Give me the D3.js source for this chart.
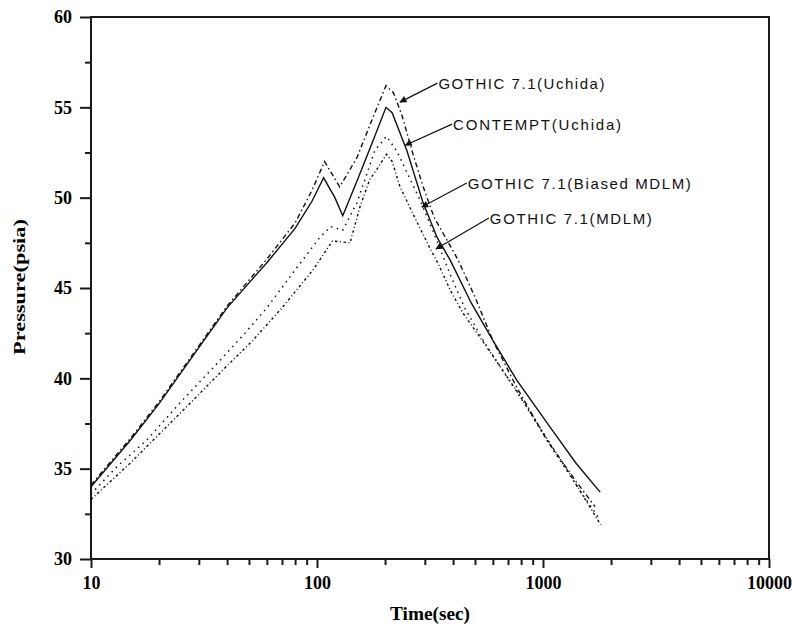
<!DOCTYPE html>
<html>
<head>
<meta charset="utf-8">
<script src="https://cdn.jsdelivr.net/npm/d3@7"></script>
<style>
  body { margin: 0; background: #fff; }
  svg { display: block; }
</style>
</head>
<body>
<script>
// values: time (sec) and pressure (psia) per run
let contemptTime  = [10, 15, 20, 30, 40, 60, 80, 95, 107, 120, 130, 150, 175, 202, 215, 250, 295, 340, 390, 480, 600, 765, 1075, 1400, 1790];
let contemptPress = [34.0, 36.6, 38.6, 41.7, 43.9, 46.4, 48.3, 49.8, 51.1, 50.0, 49.0, 50.9, 53.0, 55.0, 54.7, 52.6, 49.7, 47.8, 46.5, 44.2, 42.1, 39.9, 37.3, 35.3, 33.7];

let uchidaTime  = [10, 15, 20, 30, 40, 60, 80, 95, 108, 126, 150, 175, 202, 218, 237, 266, 295, 330, 390, 423, 500, 600, 765, 1050, 1400, 1700];
let uchidaPress = [34.1, 36.7, 38.7, 41.8, 44.0, 46.6, 48.6, 50.4, 52.0, 50.6, 52.2, 54.3, 56.2, 55.8, 54.6, 52.4, 50.6, 48.9, 47.3, 46.5, 44.5, 42.1, 39.5, 36.5, 34.3, 32.9];

let biasedTime  = [10, 13, 17.7, 25, 36, 48, 60, 80, 103, 115, 130, 150, 163, 180, 203, 225, 250, 285, 330, 390, 450, 550, 650, 800, 1050, 1400, 1780];
let biasedPress = [33.6, 35.1, 36.6, 38.7, 40.8, 42.5, 43.9, 46.0, 47.8, 48.4, 48.2, 49.7, 51.0, 52.6, 53.4, 52.6, 51.4, 49.9, 48.0, 45.7, 43.9, 42.0, 40.6, 38.9, 36.5, 34.1, 32.2];

let mdlmTime  = [10, 14.9, 20, 29.4, 40, 52, 70, 96, 117, 140, 155, 171, 187, 203, 215, 233, 266, 316, 342, 388, 443, 545, 650, 765, 1000, 1300, 1800];
let mdlmPress = [33.3, 35.3, 36.9, 39.0, 40.7, 42.1, 43.9, 46.0, 47.6, 47.5, 49.5, 51.0, 51.7, 52.4, 52.0, 50.6, 49.1, 47.2, 46.4, 44.9, 43.6, 42.0, 40.6, 39.3, 37.0, 34.8, 31.9];

let xMajorTicks = [10, 100, 1000, 10000];
let yMajorTicks = [30, 35, 40, 45, 50, 55, 60];
let yMinorTicks = [32.5, 37.5, 42.5, 47.5, 52.5, 57.5];

// annotation: label text, arrow tip [t, p], arrow tail [t, p]
let labelText = ["GOTHIC 7.1(Uchida)", "CONTEMPT(Uchida)", "GOTHIC 7.1(Biased MDLM)", "GOTHIC 7.1(MDLM)"];
let labelTip  = [[233, 55.29], [246, 52.9], [291, 49.48], [336, 47.16]];
let labelTail = [[341, 56.34], [396, 54.07], [460, 50.81], [576, 48.87]];
let labelWidth = [166, 168, 223, 162];

let width = 793, height = 637;
let svg = d3.select('body').append('svg').attr('width', width).attr('height', height);

let x = d3.scaleLog().domain([10, 10000]).range([91, 769]);
let y = d3.scaleLinear().domain([30, 60]).range([559, 17]);

let ink = "#1a1a1a";
let serif = "'Liberation Serif', 'Times New Roman', serif";

// minor ticks
let xMinor = x.ticks().filter(t => xMajorTicks.indexOf(t) < 0);
svg.append("g")
    .attr("transform", "translate(0,559)")
    .call(d3.axisBottom(x).tickValues(xMinor).tickSize(6).tickFormat(""))
    .call(g => g.select(".domain").remove());
svg.append("g")
    .attr("transform", "translate(91,0)")
    .call(d3.axisLeft(y).tickValues(yMinorTicks).tickSize(6).tickFormat(""))
    .call(g => g.select(".domain").remove());

// major ticks with labels
let xAxis = svg.append("g")
    .attr("transform", "translate(0,559)")
    .call(d3.axisBottom(x).tickValues(xMajorTicks).tickSize(9).tickPadding(8).tickFormat(d3.format("d")));
let yAxis = svg.append("g")
    .attr("transform", "translate(91,0)")
    .call(d3.axisLeft(y).tickValues(yMajorTicks).tickSize(11).tickPadding(8).tickFormat(d3.format("d")));

for (let g of [xAxis, yAxis])
{
    g.select(".domain").remove();
    g.selectAll("text")
        .attr("font-family", serif)
        .attr("font-weight", "bold")
        .attr("font-size", 18)
        .attr("fill", "#000");
}
svg.selectAll(".tick line").attr("stroke", ink).attr("stroke-width", 2);

// frame
svg.append("rect")
    .attr("x", 91).attr("y", 17)
    .attr("width", 769 - 91).attr("height", 559 - 17)
    .attr("fill", "none").attr("stroke", ink).attr("stroke-width", 2);

// axis titles
svg.append("text")
    .attr("x", 430).attr("y", 620)
    .attr("text-anchor", "middle")
    .attr("font-family", serif)
    .attr("font-weight", "bold").attr("font-size", 18)
    .attr("textLength", 80).attr("lengthAdjust", "spacingAndGlyphs")
    .attr("fill", "#000")
    .text("Time(sec)");

svg.append("text")
    .attr("transform", "translate(25,287) rotate(-90)")
    .attr("text-anchor", "middle")
    .attr("font-family", serif)
    .attr("font-weight", "bold").attr("font-size", 17)
    .attr("textLength", 136).attr("lengthAdjust", "spacingAndGlyphs")
    .attr("fill", "#000")
    .text("Pressure(psia)");

// curves
let series = [
    {time: contemptTime, press: contemptPress, dash: null,            w: 1.4},
    {time: uchidaTime,   press: uchidaPress,   dash: "5,3,1.5,3",     w: 1.4},
    {time: biasedTime,   press: biasedPress,   dash: "1.5,4.5",       w: 1.5},
    {time: mdlmTime,     press: mdlmPress,     dash: "2.5,2.5,1,2.5", w: 1.4}
];

let line = d3.line()
    .x(d => x(d[0]))
    .y(d => y(d[1]));

for (let s of series)
{
    let pts = s.time.map((t, i) => [t, s.press[i]]);
    svg.append("path")
        .datum(pts)
        .attr("d", line)
        .attr("fill", "none")
        .attr("stroke", "#111")
        .attr("stroke-width", s.w)
        .attr("stroke-dasharray", s.dash);
}

// annotations with arrows
svg.append("defs").append("marker")
    .attr("id", "arrow")
    .attr("viewBox", "0 0 10 10")
    .attr("refX", 9).attr("refY", 5)
    .attr("markerWidth", 9).attr("markerHeight", 7)
    .attr("markerUnits", "userSpaceOnUse")
    .attr("orient", "auto")
    .append("path")
    .attr("d", "M0,0 L10,5 L0,10 z")
    .attr("fill", "#111");

for (let i = 0; i < labelText.length; ++i)
{
    let tail = labelTail[i], tip = labelTip[i];
    svg.append("line")
        .attr("x1", x(tail[0])).attr("y1", y(tail[1]))
        .attr("x2", x(tip[0])).attr("y2", y(tip[1]))
        .attr("stroke", "#111").attr("stroke-width", 1.2)
        .attr("marker-end", "url(#arrow)");
    svg.append("text")
        .attr("x", x(tail[0]) + 1).attr("y", y(tail[1]) + 6)
        .attr("font-family", "'Liberation Sans', Arial, sans-serif")
        .attr("font-size", 15)
        .attr("fill", "#111")
        .attr("textLength", labelWidth[i])
        .attr("lengthAdjust", "spacing")
        .text(labelText[i]);
}
</script>
</body>
</html>
